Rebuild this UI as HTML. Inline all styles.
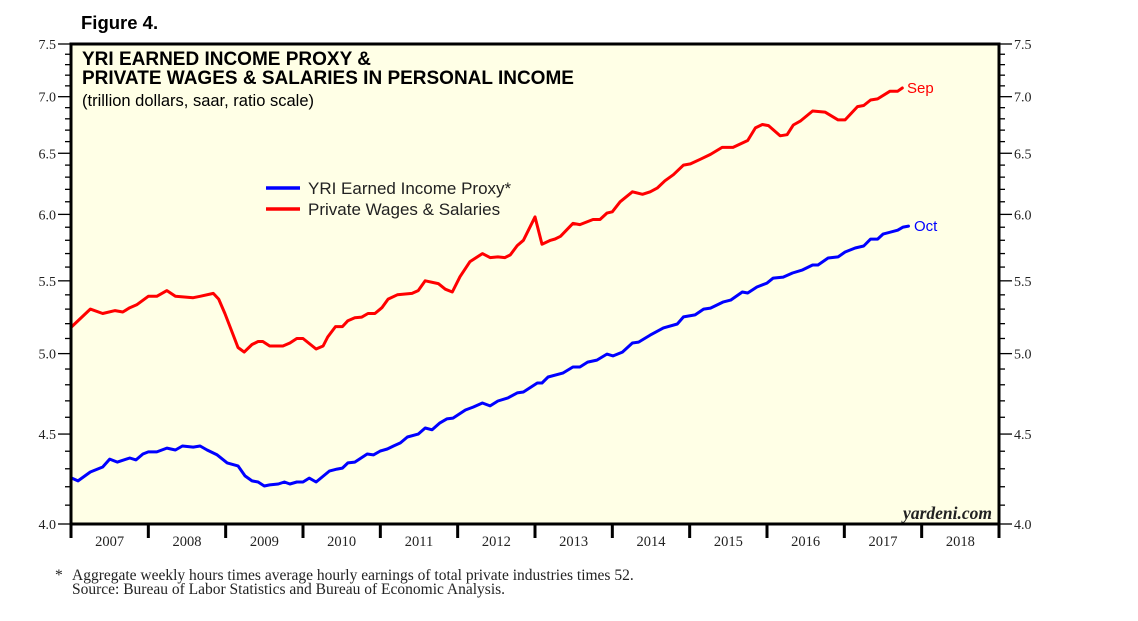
<!DOCTYPE html>
<html><head><meta charset="utf-8">
<style>
html,body{margin:0;padding:0;background:#fff;}
svg{display:block;}
.sans{font-family:"Liberation Sans",Arial,sans-serif;}
.serif{font-family:"Liberation Serif","Times New Roman",serif;}
</style></head>
<body>
<svg id="chart" width="1138" height="621" viewBox="0 0 1138 621" xmlns="http://www.w3.org/2000/svg">
<text x="81" y="29" class="sans" font-size="18.5" font-weight="bold" fill="#000">Figure 4.</text>
<rect x="71" y="44" width="928" height="480" fill="#ffffe6"/>
<g id="axes"></g>
<g id="series"></g>
<rect x="71" y="44" width="928" height="480" fill="none" stroke="#000" stroke-width="3"/>
<text x="82" y="65" class="sans" font-size="19" font-weight="bold">YRI EARNED INCOME PROXY &amp;</text>
<text x="82" y="84" class="sans" font-size="19" font-weight="bold">PRIVATE WAGES &amp; SALARIES IN PERSONAL INCOME</text>
<text x="82" y="106" class="sans" font-size="16.5">(trillion dollars, saar, ratio scale)</text>
<g>
<line x1="266" y1="188" x2="300" y2="188" stroke="#0000ff" stroke-width="3.5"/>
<text x="308" y="194" class="sans" font-size="17" fill="#222">YRI Earned Income Proxy*</text>
<line x1="266" y1="209" x2="300" y2="209" stroke="#ff0000" stroke-width="3.5"/>
<text x="308" y="215" class="sans" font-size="17" fill="#222">Private Wages &amp; Salaries</text>
</g>
<text x="907" y="93" class="sans" font-size="15" fill="#ff0000">Sep</text>
<text x="914" y="231" class="sans" font-size="15" fill="#0000ff">Oct</text>
<text x="992" y="519" class="serif" font-size="17.5" font-style="italic" font-weight="bold" text-anchor="end" fill="#222">yardeni.com</text>
<text x="55" y="580" class="serif" font-size="15.5" fill="#222">*</text>
<text x="72" y="580" class="serif" font-size="15.5" fill="#222">Aggregate weekly hours times average hourly earnings of total private industries times 52.</text>
<text x="72" y="594" class="serif" font-size="15.5" fill="#222">Source: Bureau of Labor Statistics and Bureau of Economic Analysis.</text>
</svg>
<script>
const years = [2007,2008,2009,2010,2011,2012,2013,2014,2015,2016,2017,2018];
const yTickLabels = ["4.0","4.5","5.0","5.5","6.0","6.5","7.0","7.5"];
const yTickValues = [4.0,4.5,5.0,5.5,6.0,6.5,7.0,7.5];
const wagesDates = [0.01,0.25,0.41,0.57,0.67,0.76,0.85,1.00,1.11,1.24,1.35,1.58,1.67,1.84,1.91,1.99,2.10,2.16,2.24,2.34,2.42,2.48,2.57,2.74,2.83,2.92,3.00,3.17,3.26,3.32,3.42,3.51,3.58,3.67,3.76,3.84,3.93,4.02,4.10,4.22,4.41,4.49,4.58,4.75,4.84,4.93,5.03,5.16,5.32,5.42,5.52,5.61,5.68,5.77,5.85,6.00,6.09,6.20,6.26,6.33,6.49,6.58,6.75,6.84,6.93,7.00,7.10,7.26,7.39,7.49,7.58,7.68,7.79,7.92,8.01,8.14,8.27,8.42,8.56,8.75,8.85,8.94,9.02,9.17,9.26,9.34,9.43,9.59,9.75,9.92,10.01,10.17,10.25,10.34,10.43,10.59,10.69,10.75];
const wagesValues = [5.18,5.30,5.27,5.29,5.28,5.31,5.33,5.39,5.39,5.43,5.39,5.38,5.39,5.41,5.37,5.27,5.12,5.04,5.01,5.06,5.08,5.08,5.05,5.05,5.07,5.10,5.10,5.03,5.05,5.11,5.18,5.18,5.22,5.24,5.245,5.27,5.27,5.31,5.37,5.40,5.41,5.43,5.50,5.48,5.44,5.42,5.53,5.64,5.70,5.67,5.675,5.67,5.69,5.76,5.80,5.98,5.77,5.80,5.81,5.83,5.93,5.92,5.96,5.96,6.01,6.02,6.10,6.18,6.16,6.18,6.21,6.27,6.32,6.40,6.41,6.45,6.49,6.55,6.55,6.61,6.72,6.75,6.74,6.65,6.66,6.745,6.78,6.87,6.86,6.79,6.79,6.91,6.92,6.97,6.98,7.05,7.05,7.08];
const proxyDates = [0.01,0.09,0.25,0.41,0.50,0.60,0.76,0.84,0.93,1.00,1.11,1.24,1.35,1.44,1.58,1.67,1.76,1.89,2.02,2.16,2.25,2.34,2.42,2.50,2.57,2.68,2.76,2.83,2.92,3.00,3.08,3.17,3.34,3.44,3.51,3.58,3.67,3.83,3.91,4.00,4.09,4.17,4.26,4.35,4.49,4.58,4.67,4.77,4.86,4.94,5.10,5.20,5.32,5.42,5.52,5.65,5.77,5.85,6.03,6.09,6.17,6.36,6.49,6.58,6.68,6.80,6.93,7.01,7.13,7.26,7.34,7.49,7.66,7.84,7.92,8.07,8.18,8.27,8.43,8.53,8.68,8.75,8.87,9.00,9.08,9.21,9.33,9.46,9.59,9.66,9.79,9.92,10.01,10.14,10.25,10.34,10.43,10.50,10.69,10.76,10.83];
const proxyValues = [4.248,4.232,4.282,4.310,4.355,4.338,4.361,4.350,4.384,4.396,4.396,4.418,4.407,4.430,4.424,4.430,4.407,4.379,4.333,4.316,4.260,4.232,4.226,4.204,4.210,4.215,4.226,4.215,4.226,4.226,4.248,4.226,4.287,4.298,4.304,4.333,4.338,4.384,4.379,4.401,4.413,4.430,4.448,4.483,4.500,4.536,4.525,4.566,4.590,4.595,4.644,4.662,4.687,4.669,4.699,4.718,4.749,4.755,4.811,4.811,4.849,4.874,4.913,4.913,4.945,4.958,4.997,4.985,5.01,5.07,5.076,5.123,5.171,5.198,5.246,5.26,5.30,5.307,5.349,5.363,5.420,5.413,5.456,5.484,5.520,5.527,5.557,5.579,5.615,5.615,5.667,5.675,5.712,5.742,5.757,5.809,5.809,5.847,5.877,5.901,5.909];

const NS = "http://www.w3.org/2000/svg";
const X0 = 71, X1 = 999, Y0 = 524, Y1 = 44, VMIN = 4.0, VMAX = 7.5;
function xScale(t){ return X0 + t / 12 * (X1 - X0); }
function yScale(v){ return Y0 - (Math.log(v) - Math.log(VMIN)) / (Math.log(VMAX) - Math.log(VMIN)) * (Y0 - Y1); }
function mk(tag, attrs){ const e = document.createElementNS(NS, tag); for (const k in attrs) e.setAttribute(k, attrs[k]); return e; }

const axes = document.getElementById('axes');
for (let v = 4.0; v <= 7.501; v += 0.1) {
  const y = yScale(v);
  const major = Math.abs(v*2 - Math.round(v*2)) < 1e-6;
  const len = major ? 13 : 6;
  const tl = mk('line', {x1: X0 - len, y1: y, x2: X0, y2: y, stroke: '#000', 'stroke-width': 1.3});
  
  
  axes.appendChild(tl);
  const tr = mk('line', {x1: X1, y1: y, x2: X1 + len, y2: y, stroke: '#000', 'stroke-width': 1.3});
  
  
  axes.appendChild(tr);
}
yTickValues.forEach((v, i) => {
  const y = yScale(v);
  const a = mk('text', {x: 56, y: y + 5, 'text-anchor': 'end', 'font-size': 14, fill: '#222', class: 'serif'});
  a.textContent = yTickLabels[i];
  
  
  axes.appendChild(a);
  const b = mk('text', {x: 1014, y: y + 5, 'text-anchor': 'start', 'font-size': 14, fill: '#222', class: 'serif'});
  b.textContent = yTickLabels[i];
  
  
  axes.appendChild(b);
});
for (let i = 0; i <= years.length; i++) {
  const x = xScale(i);
  const t = mk('line', {x1: x, y1: Y0, x2: x, y2: Y0 + 14, stroke: '#000', 'stroke-width': 3});
  
  
  axes.appendChild(t);
}
years.forEach((yr, i) => {
  const t = mk('text', {x: xScale(i + 0.5), y: 546, 'text-anchor': 'middle', 'font-size': 14.5, fill: '#222', class: 'serif'});
  t.textContent = yr;
  
  
  axes.appendChild(t);
});

const series = document.getElementById('series');
function drawLine(dates, vals, color, name){
  const d = dates.map((t, i) => (i ? 'L' : 'M') + xScale(t).toFixed(1) + ' ' + yScale(vals[i]).toFixed(1)).join(' ');
  const p = mk('path', {d: d, fill: 'none', stroke: color, 'stroke-width': 3, 'stroke-linejoin': 'round', 'stroke-linecap': 'round'});
  
  
  series.appendChild(p);
}
drawLine(wagesDates, wagesValues, '#ff0000', 'wages-line');
drawLine(proxyDates, proxyValues, '#0000ff', 'proxy-line');
</script>
</body></html>
